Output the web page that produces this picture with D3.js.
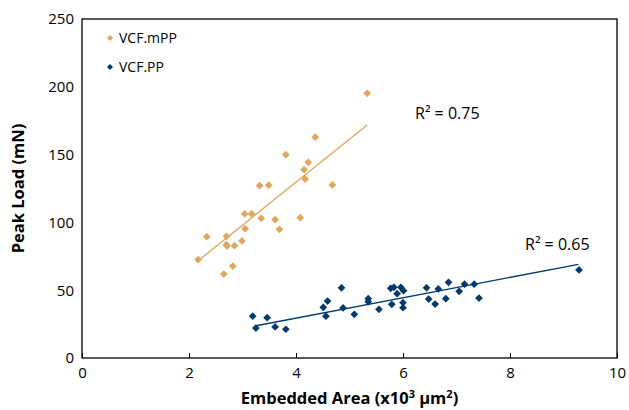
<!DOCTYPE html>
<html>
<head>
<meta charset="utf-8">
<script src="https://cdn.jsdelivr.net/npm/d3@7"></script>
<style>
  body { margin: 0; background: #fff; }
  text { font-family: "Open Sans", "Noto Sans", sans-serif; }
</style>
</head>
<body>
<svg id="chart" width="629" height="410"></svg>
<script>
// VCF.mPP (orange)
const mpp_x = [5.33, 4.36, 3.81, 4.23, 4.15, 4.17, 4.68, 3.32, 3.49, 3.04, 3.17, 3.35, 3.61, 4.08, 3.69, 3.05, 2.33, 2.70, 2.70, 2.71, 2.85, 2.99, 2.17, 2.82, 2.65];
const mpp_y = [195.2, 162.8, 149.9, 144.3, 138.9, 132.0, 127.6, 127.1, 127.4, 106.2, 106.2, 103.0, 102.0, 103.5, 94.9, 95.4, 89.5, 89.7, 83.6, 82.6, 82.8, 86.3, 72.5, 67.8, 61.9];
// VCF.PP (navy)
const pp_x = [3.19, 3.25, 3.46, 3.61, 3.81, 4.51, 4.59, 4.56, 4.85, 4.88, 5.09, 5.35, 5.35, 5.55, 5.77, 5.83, 5.89, 5.96, 6.01, 5.79, 6.00, 6.00, 6.44, 6.48, 6.66, 6.85, 6.60, 6.80, 7.05, 7.15, 7.33, 7.42, 9.29];
const pp_y = [30.8, 22.1, 29.7, 22.9, 21.2, 37.4, 42.0, 30.8, 51.8, 36.9, 32.2, 43.7, 41.5, 35.9, 51.4, 52.1, 47.4, 52.1, 49.6, 39.6, 40.8, 37.1, 51.8, 43.5, 50.9, 55.8, 39.8, 43.7, 49.2, 54.4, 54.4, 44.2, 64.9];

// trendline end points
const mpp_trend_x = [2.19, 5.33];
const mpp_trend_y = [72.3, 171.8];
const pp_trend_x = [3.23, 9.28];
const pp_trend_y = [23.6, 69.1];

const x_ticks = [0, 2, 4, 6, 8, 10];
const y_ticks = [0, 50, 100, 150, 200, 250];
const series_names = ["VCF.mPP", "VCF.PP"];
const r2_labels = ["R² = 0.75", "R² = 0.65"];
const colors = ["#DFA75E", "#023A6E"];

const svg = d3.select('#chart');
const m_left = 82, m_right = 617, m_top = 19, m_bottom = 358;

const x = d3.scaleLinear().domain([0, 10]).range([m_left, m_right]);
const y = d3.scaleLinear().domain([0, 250]).range([m_bottom, m_top]);

// frame
svg.append("rect")
  .attr("x", m_left).attr("y", m_top)
  .attr("width", m_right - m_left).attr("height", m_bottom - m_top)
  .attr("fill", "none").attr("stroke", "#000").attr("stroke-width", 1.3);

// x axis, ticks point inward
const xAxis = svg.append("g")
  .attr("transform", `translate(0,${m_bottom})`)
  .call(d3.axisBottom(x).tickValues(x_ticks).tickSize(-5).tickPadding(9).tickFormat(d3.format("d")));
xAxis.select(".domain").remove();
xAxis.selectAll("line").attr("stroke", "#000");
xAxis.selectAll("text").attr("font-size", 15).attr("fill", "#000")
  .style("font-family", "'Open Sans', sans-serif");

const yAxis = svg.append("g")
  .attr("transform", `translate(${m_left},0)`)
  .call(d3.axisLeft(y).tickValues(y_ticks).tickSize(0).tickPadding(8));
yAxis.select(".domain").remove();
yAxis.selectAll("text").attr("font-size", 15).attr("fill", "#000")
  .style("font-family", "'Open Sans', sans-serif");

// axis titles
svg.append("text")
  .attr("x", (m_left + m_right) / 2).attr("y", 404)
  .attr("text-anchor", "middle")
  .attr("font-size", 16.5).attr("font-weight", "bold")
  .html('Embedded Area (x10<tspan dy="-6" font-size="11">3</tspan><tspan dy="6"> µm</tspan><tspan dy="-6" font-size="11">2</tspan><tspan dy="6">)</tspan>');

svg.append("text")
  .attr("transform", `translate(24,${(m_top + m_bottom) / 2}) rotate(-90)`)
  .attr("text-anchor", "middle")
  .attr("font-size", 16.5).attr("font-weight", "bold")
  .text("Peak Load (mN)");

const diamond = d3.symbol().type(d3.symbolSquare).size(30);
const line = d3.line().x(d => x(d[0])).y(d => y(d[1]));

const series = [
  { xs: mpp_x, ys: mpp_y, tx: mpp_trend_x, ty: mpp_trend_y },
  { xs: pp_x, ys: pp_y, tx: pp_trend_x, ty: pp_trend_y }
];

series.forEach(function(s, k) {
  svg.append("path")
    .datum(s.tx.map((v, i) => [v, s.ty[i]]))
    .attr("d", line)
    .attr("fill", "none")
    .attr("stroke", colors[k]).attr("stroke-width", 1.3);

  svg.append("g").selectAll("path")
    .data(s.xs.map((v, i) => [v, s.ys[i]]))
    .enter()
    .append("path")
    .attr("d", diamond)
    .attr("transform", d => `translate(${x(d[0])},${y(d[1])}) rotate(45)`)
    .attr("fill", colors[k]);
});

// R² labels
svg.append("text").attr("x", 415).attr("y", 119).attr("font-size", 16).attr("fill", "#000").text(r2_labels[0]);
svg.append("text").attr("x", 525).attr("y", 250).attr("font-size", 16).attr("fill", "#000").text(r2_labels[1]);

// legend
const legend = svg.append("g");
series_names.forEach(function(name, k) {
  const ly = 38 + k * 29;
  legend.append("path")
    .attr("d", d3.symbol().type(d3.symbolSquare).size(18))
    .attr("transform", `translate(110,${ly}) rotate(45)`)
    .attr("fill", colors[k]);
  legend.append("text")
    .attr("x", 119).attr("y", ly + 5)
    .attr("font-size", 14).attr("fill", "#000")
    .text(name);
});
</script>
</body>
</html>
